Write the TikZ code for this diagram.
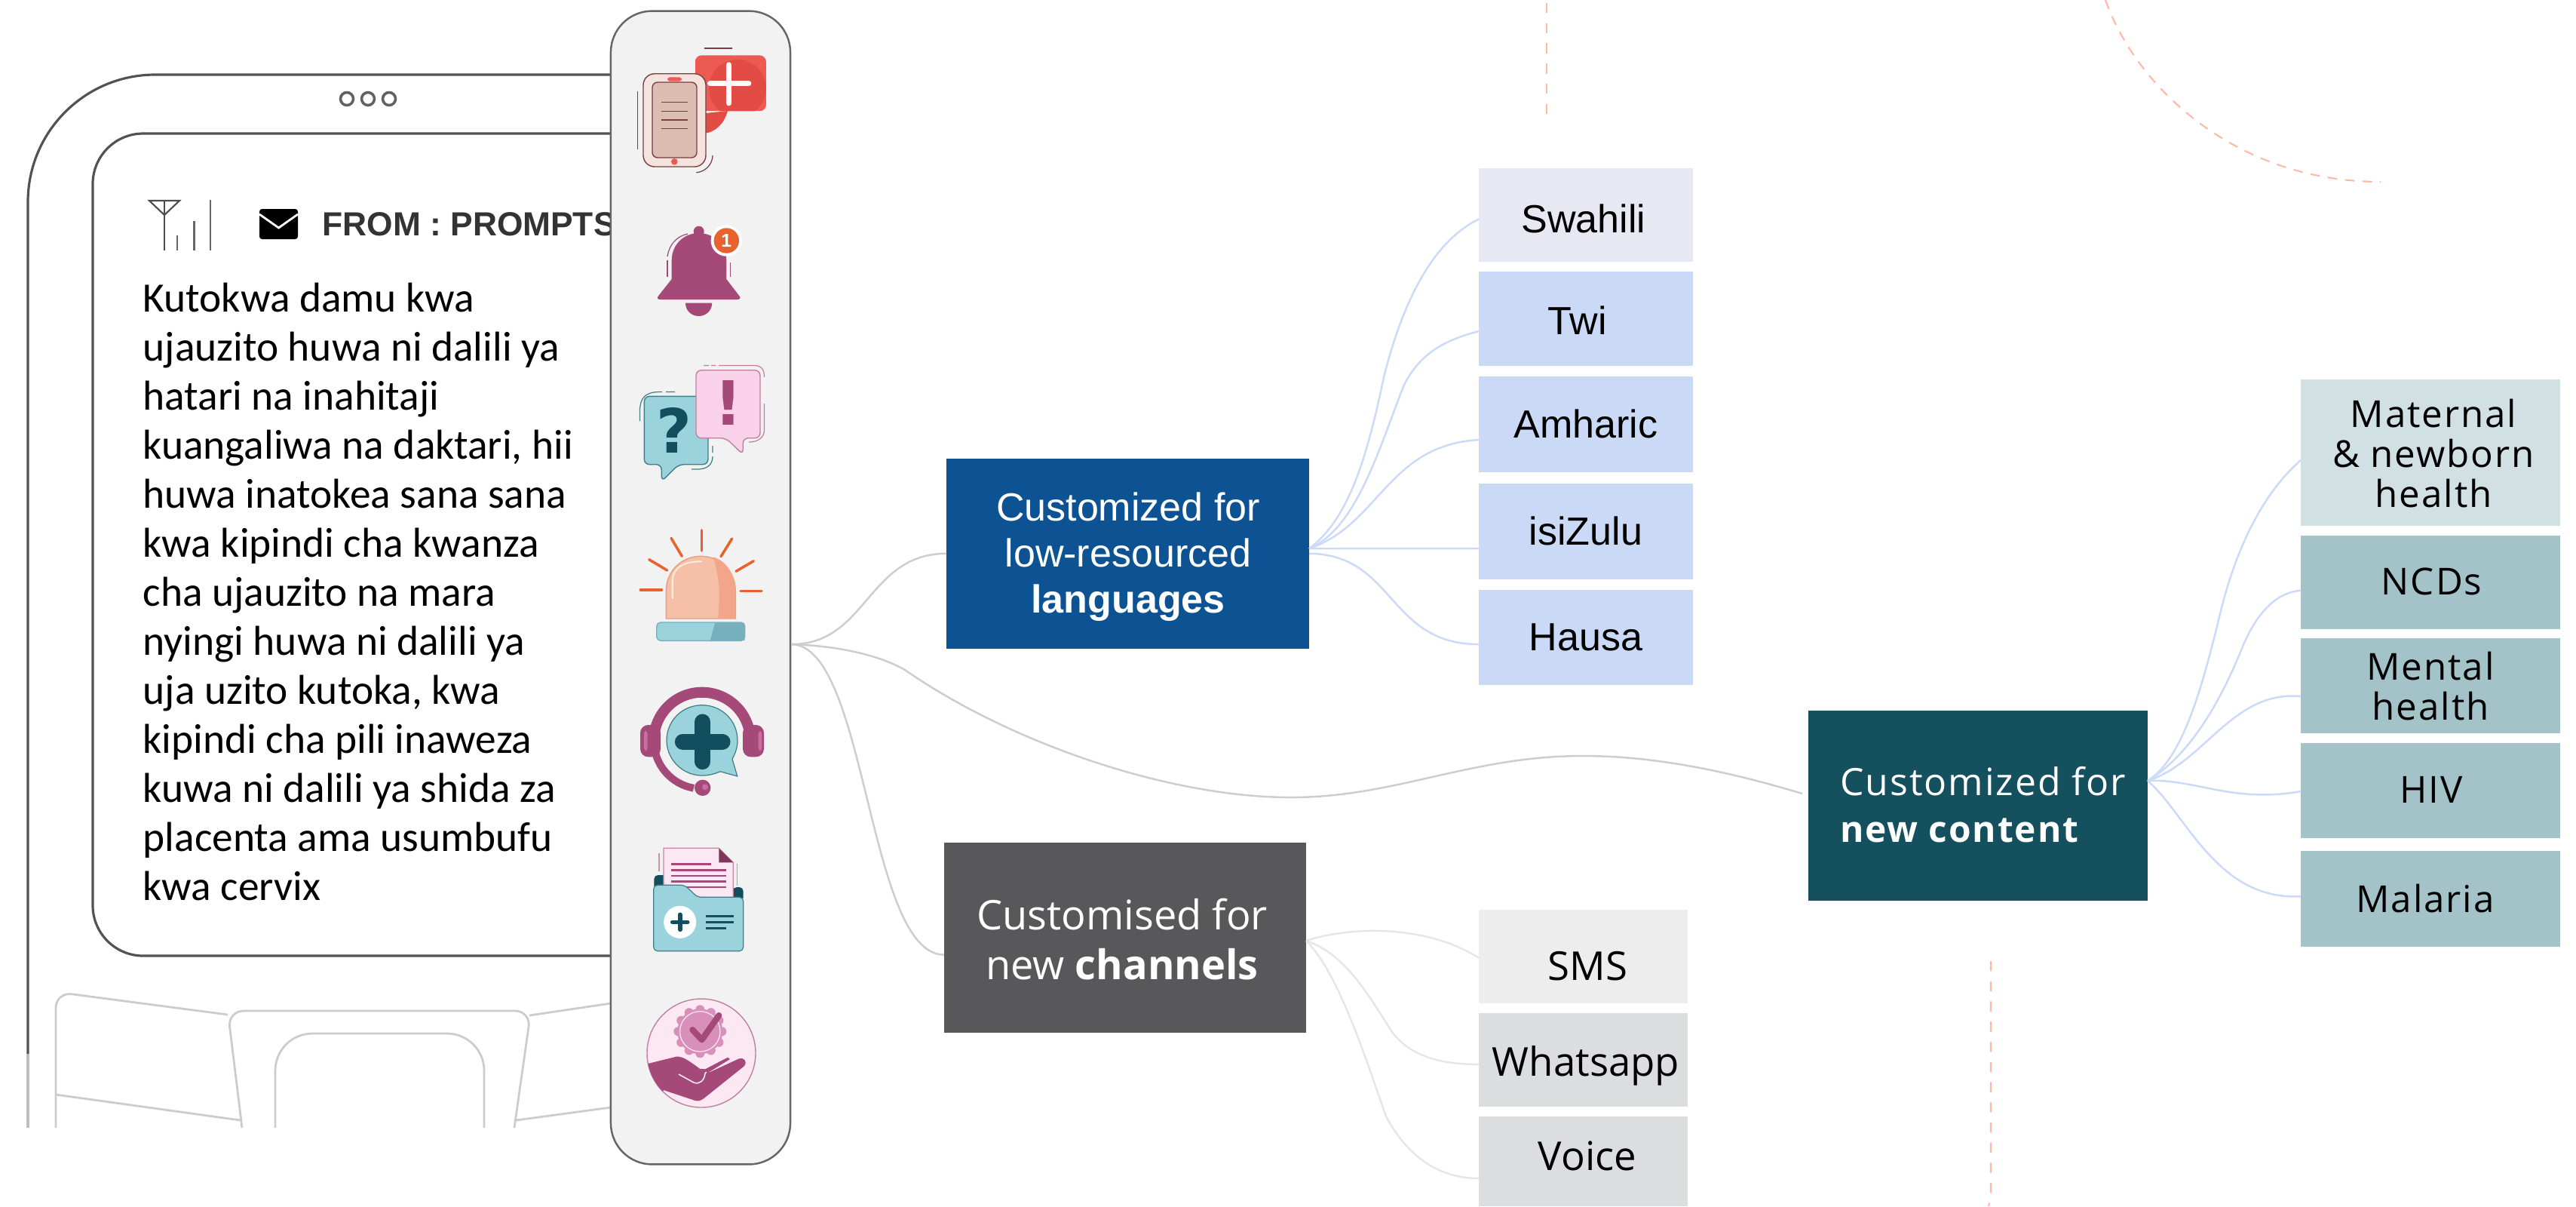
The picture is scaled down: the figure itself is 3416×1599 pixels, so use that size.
\documentclass[tikz,border=0pt]{standalone}
\usepackage{fontspec}
\setmainfont{Liberation Sans}
\newfontfamily\msgf{Carlito}
\newfontfamily\plexf{Open Sans}
\newfontfamily\plexw{Open Sans}[LetterSpace=4]
\newfontfamily\dejaf{DejaVu Sans}
\definecolor{plum}{HTML}{A54A78}
\definecolor{plumlight}{HTML}{C96FA0}
\definecolor{plumseal}{HTML}{D88FB9}
\definecolor{teal2}{HTML}{134E5E}
\definecolor{aqua}{HTML}{9BD3DC}
\definecolor{aquadark}{HTML}{76B0BC}
\definecolor{aquaedge}{HTML}{3F7F88}
\definecolor{peach}{HTML}{FFB9A6}
\definecolor{redi}{HTML}{EC5A52}
\definecolor{redd}{HTML}{E24C44}
\definecolor{ray}{HTML}{E9622E}
\definecolor{rose}{HTML}{7A3E3E}
\definecolor{phbody}{HTML}{F5E3DF}
\definecolor{phscreen}{HTML}{DDBDB2}
\definecolor{pinkb}{HTML}{F9D1E8}
\definecolor{pinkp}{HTML}{FBE8F3}
\definecolor{domel}{HTML}{F5BFA8}
\definecolor{domed}{HTML}{F2A589}
\definecolor{domee}{HTML}{E89E80}
\definecolor{gline}{HTML}{CDCDCD}
\definecolor{bline}{HTML}{CBDAF8}
\definecolor{cline}{HTML}{E6E6E6}
\newcommand{\boxn}[6]{\definecolor{box#1}{HTML}{#6}\node[boxs,fill=box#1,minimum width={(#4-#2)*0.01cm},minimum height={(#5-#3)*0.01cm}] (#1) at ({(#2+#4)/2},{(#3+#5)/2}) {};}
\tikzset{
 boxs/.style={inner sep=0,outer sep=0,draw=none},
 lab/.style={anchor=base,inner sep=0,outer sep=0,text=black},
 arial/.style={font=\fontsize{14.8}{17.4}\selectfont},
 plx/.style={font=\plexf\fontsize{15}{18.6}\selectfont},
 plxs/.style={font=\plexw\fontsize{14}{15}\selectfont},
 decor/.style={draw=peach,line width=0.6pt,dash pattern=on 3.8pt off 3.8pt},
 decorb/.style={draw=peach,line width=0.6pt,dash pattern=on 3.6pt off 3pt},
 gconn/.style={draw=gline,line width=0.7pt},
 bconn/.style={draw=bline,line width=0.7pt},
 cconn/.style={draw=cline,line width=0.7pt},
 phoneline/.style={draw=black!68,line width=0.9pt},
 keyline/.style={draw=black!20,line width=0.8pt},
 rayl/.style={draw=ray,line width=1pt,line cap=round},
 thinl/.style={line width=0.35pt},
}
\begin{document}
\begin{tikzpicture}[x=0.01cm,y=-0.01cm]
\useasboundingbox (0,0) rectangle (3416,1599);
% decorative dashed lines
\draw[decor] (2051,4) -- (2051,152);
\draw[decor] (2640,1274) -- (2640,1585) -- (2637,1599);
\draw[decorb] (2792,0) .. controls (2830,110) and (2960,241) .. (3157,241);
% phone
\draw[phoneline,rounded corners=48pt] (810,99) -- (37,99) -- (37,1397);
\draw[draw=black!25,line width=0.9pt] (37,1397) -- (37,1495);
\draw[phoneline,rounded corners=19pt] (810,177) -- (123,177) -- (123,1267) -- (810,1267);
\foreach \x in {460,488,516} \draw[draw=black!62,line width=1pt] (\x,131) circle[radius=8.5];
% keypad
\draw[keyline,rounded corners=6pt] (74,1495) -- (74,1315) -- (302,1345);
\draw[keyline] (74,1451) -- (319,1485);
\draw[keyline,rounded corners=6pt] (321,1495) -- (302,1340) -- (704,1340) -- (682,1495);
\draw[keyline,rounded corners=14pt] (365,1495) -- (365,1370) -- (642,1370) -- (642,1495);
\draw[keyline] (702,1346) -- (810,1330);
\draw[keyline] (684,1485) -- (810,1468);
% status bar
\draw[draw=black!70,line width=0.6pt] (198,266) -- (238,266) -- (218,285) -- cycle;
\draw[draw=black!70,line width=0.6pt] (218,266) -- (218,332);
\draw[draw=black!60,line width=0.6pt] (235,312) -- (235,332) (257.5,293) -- (257.5,332) (279,265) -- (279,332);
\fill[black,rounded corners=1pt] (344,277) rectangle (395,317);
\draw[white,line width=0.8pt] (344,284) -- (369.5,302) -- (395,284);
\node[anchor=base west,inner sep=0,text=black!80] (from) at (427,312) {\fontsize{12.6}{15}\selectfont\bfseries FROM : PROMPTS};
\node[anchor=base west,inner sep=0,align=left,text=black,font=\msgf\fontsize{15.75}{18.47}\selectfont] (msg) at (189,1193) {Kutokwa damu kwa\\ujauzito huwa ni dalili ya\\hatari na inahitaji\\kuangaliwa na daktari, hii\\huwa inatokea sana sana\\kwa kipindi cha kwanza\\cha ujauzito na mara\\nyingi huwa ni dalili ya\\uja uzito kutoka, kwa\\kipindi cha pili inaweza\\kuwa ni dalili ya shida za\\placenta ama usumbufu\\kwa cervix};
% panel
\node[draw=black!60,fill=black!5,line width=0.7pt,rounded corners=15.6pt,inner sep=0,minimum width=2.38cm,minimum height=15.28cm] (panel) at (929,779) {};
% icon 1: phone with medical bubble
\draw[draw=rose,thinl] (934,64) -- (970.7,64);
\fill[redd] (936,150) -- (965,147) .. controls (960,165) and (948,175) .. (935,176.7) -- cycle;
\begin{scope}
\clip[rounded corners=2.5pt] (921.7,73.3) rectangle (1016,147.3);
\fill[redi] (921.7,73.3) rectangle (1016,147.3);
\fill[redd] (978,117) circle[radius=38];
\end{scope}
\draw[white,line width=2.1pt,line cap=round] (941.7,110.7) -- (992.7,110.7) (966.7,86) -- (966.7,136.7);
\draw[draw=rose,fill=phbody,line width=0.4pt,rounded corners=4.3pt] (853,97.7) rectangle (936,221);
\draw[draw=rose,fill=phscreen,line width=0.4pt,rounded corners=2pt] (865,109) rectangle (924,209);
\foreach \y in {135.7,147.3,159,170.7} \draw[draw=rose,thinl] (876.7,\y) -- (912,\y);
\fill[redi,rounded corners=1pt] (885,102.3) rectangle (904,107.7);
\fill[redi] (894.3,214.3) circle[radius=4.3];
\draw[draw=rose,thinl] (845.3,120.7) -- (845.3,197.7);
\draw[draw=rose,thinl] (923.3,228.7) .. controls (935,228) and (945,218) .. (945,206);
% icon 2: bell
\fill[plum] (872.7,392.7) -- (890.7,370) -- (890.7,345) .. controls (890.7,325) and (906,309) .. (926.7,309) .. controls (947,309) and (963.3,325) .. (963.3,345) -- (963.3,370) -- (980.7,392.7) .. controls (983,396) and (980,397) .. (977,397) -- (876,397) .. controls (873,397) and (870.5,396) .. (872.7,392.7) -- cycle;
\fill[plum] (926.7,306.7) circle[radius=7];
\fill[plum] (909,401.7) -- (944.3,401.7) .. controls (944,412) and (936,419) .. (926.7,419) .. controls (917,419) and (909,412) .. (909,401.7) -- cycle;
\draw[plum,thinl] (885,345) -- (885,367) (968.3,348) -- (968.3,367);
\draw[plum,thinl] (885,340) .. controls (887,325) and (897,313) .. (912,310);
\fill[white] (963.3,319) circle[radius=20.7];
\node[circle,fill=ray,inner sep=0,minimum size=0.334cm,text=white,font=\fontsize{7}{8}\selectfont\bfseries] (badge) at (963.3,319) {1};
% icon 3: speech bubbles
\draw[draw=aquaedge,fill=aqua,line width=0.4pt,rounded corners=2pt] (877.3,638.3) -- (877.3,615.7) -- (854.3,615.7) -- (854.3,525.3) -- (939,525.3) -- (939,615.7) -- (900,615.7) -- cycle;
\node[text=teal2,inner sep=0,font=\dejaf\fontsize{23}{25}\selectfont\bfseries] (qmark) at (894,570) {?};
\draw[draw=plum!70,fill=pinkb,line width=0.4pt,rounded corners=2pt] (985.3,602.7) -- (962.7,580.7) -- (923,580.7) -- (923,490.7) -- (1008,490.7) -- (1008,580.7) -- (985.3,580.7) -- cycle;
\node[text=plum,inner sep=0,font=\dejaf\fontsize{23}{25}\selectfont\bfseries] (emark) at (965.7,534) {!};
\draw[aquaedge,thinl] (848.5,558) -- (848.5,545) .. controls (848.5,528) and (855,519.5) .. (875,519.5) -- (878,519.5) (883,519.5) -- (895,519.5);
\draw[aquaedge,thinl] (945,591) -- (945,600) (945,605) .. controls (945,618) and (935,622) .. (925,622) -- (917,622);
\draw[plum!70,thinl] (933,484.5) -- (940,484.5) (943,484.5) -- (949,484.5) (953,484.5) -- (1000,484.5) .. controls (1010,484.5) and (1013.5,490) .. (1013.5,500);
\draw[plum!70,thinl] (1013.5,535) -- (1013.5,570) .. controls (1013.5,580) and (1005,586) .. (993,586);
% icon 4: siren
\foreach \a/\b/\c/\d in {849.3/782/877.3/782,860.7/741.7/884.7/756,890/713.3/904.3/737.3,930.3/702.7/930.3/730,970.7/714/956/737.7,999.3/743.7/976/757.3,982/783.7/1010/783.7}
 \draw[rayl] (\a,\b) -- (\c,\d);
\draw[draw=domee,fill=domel,line width=0.4pt] (883.3,820) -- (883.3,783.3) .. controls (883.3,757) and (904,737.3) .. (929.3,737.3) .. controls (955,737.3) and (975.3,757) .. (975.3,783.3) -- (975.3,820) -- cycle;
\fill[domed] (946,738.5) .. controls (955,770) and (955,790) .. (952,819.7) -- (975,819.7) -- (975,783.3) .. controls (975,760) and (962,743) .. (946,738.5) -- cycle;
\draw[white!85!orange,line width=0.6pt,line cap=round] (891.7,793) -- (891.7,770) .. controls (892,752) and (908,744) .. (930,744.3);
\draw[draw=aquadark,fill=aqua,line width=0.4pt,rounded corners=1.5pt] (870.7,849.3) -- (870.7,825) -- (987.7,825) -- (987.7,849.3) -- cycle;
\fill[aquadark] (948.3,825.4) -- (986,825.4) -- (987.3,828) -- (987.3,849) -- (941.7,849) -- cycle;
% icon 5: headset
\draw[plum,line width=4pt] (867,981.7) arc[start angle=180,end angle=368,radius=64];
\draw[plum,line width=2.8pt] (867,981.7) arc[start angle=180,end angle=100,radius=64];
\fill[plum,rounded corners=3pt] (849,961) rectangle (876,1003.3);
\fill[plum,rounded corners=3pt] (985,961) rectangle (1013,1003.3);
\fill[plumlight,rounded corners=1pt] (854,969) rectangle (858.7,995);
\fill[plumlight,rounded corners=1pt] (1005.7,969) rectangle (1010.4,995);
\fill[plum] (931.7,1044.3) circle[radius=10.7];
\fill[plumlight] (935,1043.3) circle[radius=4];
\draw[aquaedge,fill=aqua,line width=0.35pt] (971,1006) -- (977.7,1029) -- (955,1022.7) .. controls (916,1040) and (884,1012) .. (884,981.7) .. controls (884,955) and (905,934.7) .. (931,934.7) .. controls (957,934.7) and (978,955) .. (978,981.7) .. controls (978,991) and (975,999) .. (971,1006) -- cycle;
\draw[teal2,line width=6pt,line cap=round] (931.7,957) -- (931.7,1009.6) (905.4,983.3) -- (958,983.3);
% icon 6: folder
\draw[plum!60,thinl] (874,1131) -- (874,1155) (977.7,1145) -- (977.7,1174);
\fill[teal2,rounded corners=1.5pt] (867.3,1160) rectangle (948,1180);
\fill[teal2,rounded corners=1.5pt] (971.7,1176) rectangle (985.7,1195);
\draw[plum!65,fill=pinkp,line width=0.35pt] (880,1124.3) -- (953.3,1124.3) -- (972.3,1143.3) -- (972.3,1190) -- (880,1190) -- cycle;
\fill[plum!75!black] (953.3,1124.3) -- (972.3,1143.3) -- (953.3,1143.3) -- cycle;
\draw[plum,line width=0.8pt] (890,1145.7) -- (943.3,1145.7);
\foreach \y in {1153.3,1161,1168.7,1176} \draw[plum,line width=0.8pt] (890,\y) -- (962.7,\y);
\draw[aquaedge,fill=aqua,line width=0.35pt,rounded corners=1.5pt] (866.7,1260.7) -- (866.7,1173.3) -- (908,1173.3) -- (925,1189.3) -- (985.7,1189.3) -- (985.7,1260.7) -- cycle;
\fill[white] (901.7,1222.3) circle[radius=21.5];
\draw[teal2,line width=1.6pt,line cap=round] (901.7,1212.3) -- (901.7,1232.3) (891.7,1222.3) -- (911.7,1222.3);
\draw[teal2,line width=0.85pt] (936,1214) -- (972.7,1214) (936,1222) -- (972.7,1222) (936,1230) -- (963.3,1230);
% icon 7: badge with hand
\begin{scope}
\draw[draw=plum!70,fill=pinkp,line width=0.4pt] (930,1396) circle[radius=72];
\clip (930,1396) circle[radius=72];
\foreach \a in {0,30,...,330} \fill[plumseal] (928.3,1367.3) ++(\a:29) circle[radius=6];
\fill[plumseal] (928.3,1367.3) circle[radius=30];
\draw[pinkp,line width=0.35pt] (928.3,1367.3) circle[radius=26.7];
\draw[plum,line width=2.3pt,line cap=round,line join=round] (918.3,1365) -- (930.7,1378.3) -- (953.3,1346);
\fill[plum] (855,1411) -- (896.7,1400.7) .. controls (905,1400) and (912,1405) .. (928,1416.7) -- (935,1417.3) -- (965,1401.7) -- (968,1404) -- (936.7,1423.3) -- (980,1403.3) .. controls (986,1401) and (992,1407) .. (986.7,1413.3) -- (936.7,1453.3) .. controls (930,1459) and (927,1460) .. (922,1459) -- (880,1445) -- (855,1470) -- cycle;
\draw[pinkp,line width=0.45pt] (900,1424) -- (920,1435) .. controls (928,1438) and (934,1432) .. (935,1423) -- (936.7,1421);
\end{scope}
% connectors (grey, first level)
\coordinate (hub) at ([yshift=-0.75cm]panel.east);
% boxes
\boxn{blue}{1255}{607.5}{1736}{860}{0D5393}
\boxn{chan}{1252}{1117}{1732}{1369}{58585A}
\boxn{cont}{2397.5}{942}{2848}{1194}{15505F}
\boxn{swa}{1961}{223}{2245}{347}{E8E8F3}
\boxn{twi}{1961}{360}{2245}{485}{C9D9F6}
\boxn{amh}{1961}{499}{2245}{626}{C9D9F6}
\boxn{zul}{1961}{640.5}{2245}{767.5}{C9D9F6}
\boxn{hau}{1961}{781.5}{2245}{908}{C9D9F6}
\boxn{sms}{1961}{1205.5}{2238}{1330}{EDEDED}
\boxn{wha}{1961}{1342.7}{2238}{1467}{DCDDDF}
\boxn{voi}{1961}{1480}{2238}{1599}{DCDDDF}
\boxn{mat}{3051}{503}{3394.6}{697}{D1E0E3}
\boxn{ncd}{3051}{709.5}{3394.6}{834}{A3C3C9}
\boxn{men}{3051}{846}{3394.6}{972}{A3C3C9}
\boxn{hiv}{3051}{985}{3394.6}{1111}{A3C3C9}
\boxn{mal}{3051}{1128}{3394.6}{1254.5}{A3C3C9}
% first level connectors
\draw[gconn] (hub) .. controls (1150,854) and (1150,734) .. (blue.west);
\draw[gconn] (hub) .. controls (1150,855) and (1150,1265.6) .. ([yshift=-0.226cm]chan.west);
\draw[gconn] (hub) .. controls (1110,856) and (1165,868) .. (1200,888) .. controls (1340,985) and (1550,1057) .. (1712,1057) .. controls (1850,1057) and (1950,1002) .. (2099,1002) .. controls (2200,1002) and (2300,1025) .. ([xshift=-0.075cm,yshift=0.16cm]cont.west);
% language connectors
\coordinate (bh) at ([yshift=0.065cm]blue.east);
\draw[bconn] (bh) .. controls (1785,690) and (1810,620) .. (1835,500) .. controls (1860,400) and (1900,320) .. ([yshift=-0.055cm]swa.west);
\draw[bconn] (bh) .. controls (1800,700) and (1830,590) .. (1862,510) .. controls (1885,465) and (1920,450) .. ([yshift=-0.165cm]twi.west);
\draw[bconn] (bh) .. controls (1830,695) and (1840,590) .. ([yshift=-0.205cm]amh.west);
\draw[bconn] (bh) -- ([yshift=-0.23cm]zul.west);
\draw[bconn] (blue.east) .. controls (1850,735) and (1840,854) .. ([yshift=-0.093cm]hau.west);
% channel connectors
\coordinate (ch) at ([yshift=-0.04cm]chan.east);
\draw[cconn] (ch) .. controls (1790,1228) and (1890,1225) .. ([yshift=-0.02cm]sms.west);
\draw[cconn] (ch) .. controls (1785,1265) and (1815,1320) .. (1846,1368) .. controls (1870,1400) and (1910,1411) .. ([yshift=-0.06cm]wha.west);
\draw[cconn] (ch) .. controls (1775,1290) and (1810,1400) .. (1838,1480) .. controls (1865,1530) and (1905,1562) .. ([yshift=-0.225cm]voi.west);
% content connectors
\coordinate (cc) at ([yshift=0.33cm]cont.east);
\draw[bconn] (cc) .. controls (2895,1005) and (2920,910) .. (2941,826) .. controls (2965,720) and (3005,650) .. ([yshift=-0.1cm]mat.west);
\draw[bconn] (cc) .. controls (2905,1000) and (2945,930) .. (2976,852) .. controls (2995,810) and (3020,785) .. ([yshift=-0.11cm]ncd.west);
\draw[bconn] (cc) .. controls (2925,1010) and (2960,915) .. ([yshift=-0.14cm]men.west);
\draw[bconn] (cc) .. controls (2910,1032) and (2960,1065) .. ([yshift=-0.01cm]hiv.west);
\draw[bconn] (cc) .. controls (2900,1080) and (2940,1194) .. ([yshift=0.03cm]mal.west);
% box labels
\node[lab,arial,align=center,text=white] (bluet) at (1496,812.5) {Customized for\\low-resourced\\\textbf{languages}};
\node[lab,font=\plexf\fontsize{15.4}{18.6}\selectfont,align=center,text=white] (chant) at (1488,1298) {Customised for\\new \textbf{channels}};
\node[lab,font=\plexw\fontsize{14.2}{17.4}\selectfont,align=left,anchor=base west,text=white] (contt) at (2440,1116) {Customized for\\{\fontsize{13.6}{17.4}\selectfont\textbf{new content}}};
\node[lab,arial] (swat) at (2100,308) {Swahili};
\node[lab,arial] (twit) at (2092,443) {Twi};
\node[lab,arial] (amht) at (2103,580) {Amharic};
\node[lab,arial] (zult) at (2103,722) {isiZulu};
\node[lab,arial] (haut) at (2103,862.5) {Hausa};
\node[lab,plx] (smst) at (2105.6,1299.5) {SMS};
\node[lab,plx] (what) at (2103,1426.5) {Whatsapp};
\node[lab,plx] (voit) at (2105,1551) {Voice};
\node[lab,plxs,align=center] (matt) at (3227,672) {Maternal\\\&\ newborn\\health};
\node[lab,plxs] (ncdt) at (3224.6,788.5) {NCDs};
\node[lab,plxs,align=center] (ment) at (3223,954) {Mental\\health};
\node[lab,plxs] (hivt) at (3224,1064) {HIV};
\node[lab,plxs] (malt) at (3216,1209.5) {Malaria};
\end{tikzpicture}
\end{document}
